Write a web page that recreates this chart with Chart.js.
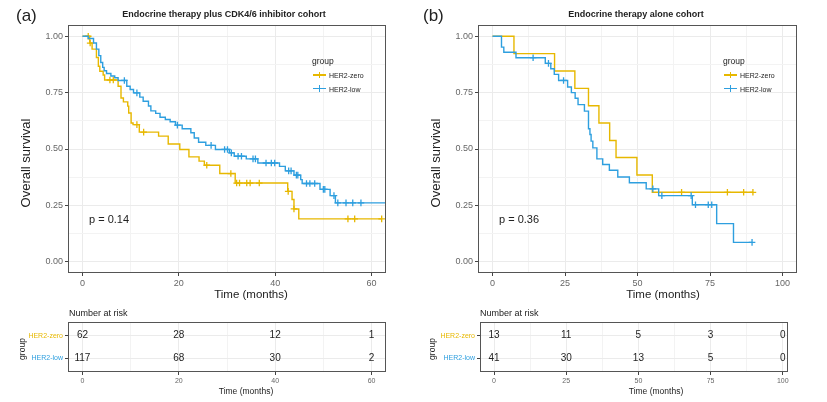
<!DOCTYPE html>
<html>
<head>
<meta charset="utf-8">
<script src="https://cdn.jsdelivr.net/npm/chart.js@4.4.0/dist/chart.umd.min.js"></script>
<style>
  body { margin: 0; background: #fff; font-family: "Liberation Sans", Arial, sans-serif; }
  #wrap { position: relative; width: 827px; height: 402px; overflow: hidden; background: #fff; }
  canvas { position: absolute; }
  .lbl { position: absolute; white-space: nowrap; line-height: 1; color: #222; }
  .sw { position: absolute; }
</style>
</head>
<body>
<div id="wrap">
  <canvas id="mainA" width="400" height="290" style="left:0;top:0"></canvas>
  <canvas id="mainB" width="417" height="290" style="left:410px;top:0"></canvas>
  <canvas id="riskA" width="400" height="90" style="left:0;top:300px"></canvas>
  <canvas id="riskB" width="417" height="90" style="left:410px;top:300px"></canvas>
</div>
<script>
// groups
const groups = ['HER2-zero', 'HER2-low'];
const groupColors = ['#E7B800', '#2E9FDF'];

// (a) endocrine therapy + CDK4/6 inhibitor: KM steps (months, survival after step)
const aZeroTime = [0, 1.5, 2.0, 2.9, 3.3, 3.6, 4.3, 4.6, 7.4, 8.0, 8.5, 9.4, 9.6, 10.1, 10.5, 11.8, 15.8, 17.8, 20.2, 22.1, 24.2, 25.3, 28.5, 31.7, 42.6, 43.5, 43.9, 44.9, 62.1];
const aZeroSurv = [1, 0.970, 0.943, 0.906, 0.867, 0.845, 0.828, 0.806, 0.778, 0.726, 0.709, 0.690, 0.660, 0.615, 0.608, 0.575, 0.557, 0.522, 0.498, 0.465, 0.446, 0.428, 0.391, 0.349, 0.312, 0.276, 0.234, 0.190, 0.190];
const aZeroCensorTime = [1.2, 1.6, 5.7, 6.4, 11.3, 12.7, 25.8, 30.8, 32.0, 32.6, 34.1, 34.8, 36.7, 42.7, 43.9, 55.1, 56.5, 62.1];
const aZeroCensorSurv = [1.0, 0.970, 0.806, 0.806, 0.608, 0.575, 0.428, 0.391, 0.349, 0.349, 0.349, 0.349, 0.349, 0.312, 0.234, 0.190, 0.190, 0.190];

const aLowTime = [0, 1.2, 2.3, 2.9, 3.4, 3.8, 4.2, 4.5, 5.0, 5.9, 6.7, 7.4, 9.2, 9.9, 10.6, 11.9, 12.6, 13.7, 14.2, 15.2, 16.1, 17.2, 18.2, 19.3, 20.7, 22.5, 23.2, 24.1, 25.6, 27.6, 30.5, 31.5, 34.0, 36.4, 40.9, 42.1, 43.9, 45.3, 45.6, 49.3, 51.4, 52.5, 66];
const aLowSurv = [1, 0.99, 0.97, 0.943, 0.914, 0.884, 0.862, 0.847, 0.835, 0.824, 0.816, 0.804, 0.778, 0.764, 0.749, 0.730, 0.712, 0.691, 0.669, 0.658, 0.641, 0.631, 0.621, 0.606, 0.590, 0.572, 0.549, 0.530, 0.516, 0.498, 0.483, 0.468, 0.456, 0.438, 0.423, 0.403, 0.384, 0.364, 0.347, 0.321, 0.293, 0.261, 0.261];
const aLowCensorTime = [8.7, 11.3, 19.7, 26.7, 29.5, 30.1, 30.9, 32.3, 33.0, 35.4, 35.9, 38.1, 39.2, 39.9, 42.8, 43.3, 44.4, 44.7, 46.5, 47.2, 48.2, 50.0, 50.3, 52.2, 53.0, 54.7, 56.1, 57.8];
const aLowCensorSurv = [0.804, 0.749, 0.606, 0.516, 0.498, 0.498, 0.483, 0.468, 0.468, 0.456, 0.456, 0.438, 0.438, 0.438, 0.403, 0.403, 0.384, 0.384, 0.347, 0.347, 0.347, 0.321, 0.321, 0.293, 0.261, 0.261, 0.261, 0.261];

// (b) endocrine therapy alone
const bZeroTime = [0, 7.4, 21.4, 28.4, 33.1, 36.7, 40.4, 42.6, 49.8, 55.1, 89.8];
const bZeroSurv = [1, 0.923, 0.846, 0.769, 0.692, 0.615, 0.538, 0.462, 0.385, 0.308, 0.308];
const bZeroCensorTime = [65.2, 81.0, 86.6, 89.8];
const bZeroCensorSurv = [0.308, 0.308, 0.308, 0.308];

const bLowTime = [0, 3.1, 3.9, 8.1, 18.2, 20.1, 21.3, 22.8, 25.9, 27.2, 28.5, 29.5, 31.7, 33.1, 33.6, 34.0, 34.6, 36.0, 38.0, 40.3, 43.2, 47.2, 53.0, 57.3, 68.9, 77.3, 83.1, 89.5];
const bLowSurv = [1, 0.952, 0.929, 0.905, 0.880, 0.856, 0.831, 0.804, 0.775, 0.750, 0.725, 0.697, 0.668, 0.590, 0.564, 0.535, 0.505, 0.456, 0.431, 0.406, 0.376, 0.350, 0.323, 0.293, 0.253, 0.169, 0.086, 0.086];
const bLowCensorTime = [14.0, 19.3, 24.5, 55.3, 58.4, 68.5, 70.0, 74.4, 75.6, 89.5];
const bLowCensorSurv = [0.905, 0.880, 0.804, 0.323, 0.293, 0.293, 0.253, 0.253, 0.253, 0.086];

// number at risk
const aRiskTime = [0, 20, 40, 60];
const aRiskZero = [62, 28, 12, 1];
const aRiskLow = [117, 68, 30, 2];
const bRiskTime = [0, 25, 50, 75, 100];
const bRiskZero = [13, 11, 5, 3, 0];
const bRiskLow = [41, 30, 13, 5, 0];

// ticks (major labelled, minor only as grid)
const aTimeGrid = [0, 10, 20, 30, 40, 50, 60];
const aTimeMajor = [0, 20, 40, 60];
const bTimeGrid = [0, 12.5, 25, 37.5, 50, 62.5, 75, 87.5, 100];
const bTimeMajor = [0, 25, 50, 75, 100];
const survGrid = [0, 0.125, 0.25, 0.375, 0.5, 0.625, 0.75, 0.875, 1];
const survMajor = [0, 0.25, 0.5, 0.75, 1];

Chart.defaults.font.family = '"Liberation Sans", Arial, sans-serif';
Chart.defaults.color = '#666';

const wrap = document.getElementById('wrap');

// frame around the plotting area (theme_bw panel border)
const panelBorder = {
  id: 'panelBorder',
  afterDraw(chart) {
    const { ctx, chartArea: a } = chart;
    ctx.save();
    ctx.strokeStyle = '#555';
    ctx.lineWidth = 1;
    ctx.strokeRect(Math.round(a.left) + 0.5, Math.round(a.top) + 0.5,
      Math.round(a.right - a.left) - 1, Math.round(a.bottom - a.top) - 1);
    ctx.restore();
  }
};

// numbers of the risk table, placed at the points of each row
const riskNumbers = {
  id: 'riskNumbers',
  afterDatasetsDraw(chart) {
    const ctx = chart.ctx;
    ctx.save();
    ctx.font = '10px "Liberation Sans", Arial, sans-serif';
    ctx.fillStyle = '#222';
    ctx.textAlign = 'center';
    ctx.textBaseline = 'middle';
    chart.data.datasets.forEach((ds, i) => {
      chart.getDatasetMeta(i).data.forEach((pt, j) => {
        ctx.fillText(String(ds.data[j].n), pt.x, pt.y);
      });
    });
    ctx.restore();
  }
};

function gridScale(min, max, gridTicks, majorTicks, labelFmt, fontSize, size, isY) {
  return {
    type: 'linear',
    min: min,
    max: max,
    afterBuildTicks: axis => { axis.ticks = gridTicks.map(v => ({ value: v })); },
    afterFit: axis => { if (isY) axis.width = size; else axis.height = size; },
    ticks: {
      autoSkip: false,
      maxRotation: 0,
      padding: 2,
      font: { size: fontSize },
      callback: v => majorTicks.includes(v) ? labelFmt(v) : ''
    },
    grid: {
      tickLength: 3,
      color: c => majorTicks.includes(c.tick.value) ? '#ebebeb' : '#f3f3f3',
      tickColor: c => majorTicks.includes(c.tick.value) ? '#444' : 'rgba(0,0,0,0)'
    },
    border: { display: false }
  };
}

// Kaplan-Meier panel
function createKmChart(id, curves, xMin, xMax, xGrid, xMajor, padRight) {
  const datasets = [];
  curves.forEach((c, g) => {
    datasets.push({
      data: c.time.map((t, i) => ({ x: t, y: c.surv[i] })),
      borderColor: groupColors[g],
      borderWidth: 1.4,
      stepped: 'before',
      pointRadius: 0,
      fill: false,
      order: 2 * (1 - g) + 1
    });
    datasets.push({
      data: c.censorTime.map((t, i) => ({ x: t, y: c.censorSurv[i] })),
      showLine: false,
      pointStyle: 'cross',
      pointRadius: 3.3,
      borderColor: groupColors[g],
      borderWidth: 1.3,
      order: 2 * (1 - g)
    });
  });
  return new Chart(document.getElementById(id), {
    type: 'line',
    data: { datasets },
    options: {
      responsive: false,
      animation: false,
      devicePixelRatio: 1,
      layout: { padding: { top: 25, right: padRight, left: 0, bottom: 0 } },
      plugins: { legend: { display: false }, tooltip: { enabled: false } },
      scales: {
        x: gridScale(xMin, xMax, xGrid, xMajor, v => String(v), 9, 17, false),
        y: gridScale(-0.05, 1.05, survGrid, survMajor, v => v.toFixed(2), 9, 68, true)
      }
    },
    plugins: [panelBorder]
  });
}

// risk table panel
function createRiskChart(id, times, rows, xMin, xMax, xGrid, xMajor, yWidth, padRight) {
  const datasets = rows.map((row, g) => ({
    data: times.map((t, i) => ({ x: t, y: g + 1, n: row[i] })),
    showLine: false,
    pointRadius: 0
  }));
  const yScale = gridScale(0.4, 2.6, [1, 2], [1, 2], v => groups[v - 1], 7, yWidth, true);
  yScale.reverse = true;
  yScale.ticks.color = c => groupColors[c.index];
  return new Chart(document.getElementById(id), {
    type: 'line',
    data: { datasets },
    options: {
      responsive: false,
      animation: false,
      devicePixelRatio: 1,
      layout: { padding: { top: 22, right: padRight, left: 0, bottom: 0 } },
      plugins: { legend: { display: false }, tooltip: { enabled: false } },
      scales: {
        x: gridScale(xMin, xMax, xGrid, xMajor, v => String(v), 7, 18, false),
        y: yScale
      }
    },
    plugins: [panelBorder, riskNumbers]
  });
}

// text outside the plotting areas
function addLabel(text, x, y, size, opt = {}) {
  const el = document.createElement('div');
  el.className = 'lbl';
  el.textContent = text;
  el.style.left = x + 'px';
  el.style.top = y + 'px';
  el.style.fontSize = size + 'px';
  if (opt.bold) el.style.fontWeight = 'bold';
  if (opt.color) el.style.color = opt.color;
  const tx = opt.center ? '-50%' : '0';
  el.style.transform = 'translate(' + tx + ', -50%)' + (opt.rotate ? ' rotate(-90deg)' : '');
  wrap.appendChild(el);
}

function addBox(x, y, w, h, color) {
  const el = document.createElement('div');
  el.className = 'sw';
  el.style.cssText += 'left:' + x + 'px;top:' + y + 'px;width:' + w + 'px;height:' + h + 'px;background:' + color;
  wrap.appendChild(el);
}

function addLegend(x, y) {
  addLabel('group', x, y, 8.5);
  groups.forEach((g, i) => {
    const cy = y + 14 + i * 13.5;
    addBox(x + 1, cy - 0.7, 13, 1.4, groupColors[i]);
    addBox(x + 6.8, cy - 3.2, 1.4, 6.4, groupColors[i]);
    addLabel(g, x + 17, cy, 7);
  });
}

createKmChart('mainA', [
  { time: aZeroTime, surv: aZeroSurv, censorTime: aZeroCensorTime, censorSurv: aZeroCensorSurv },
  { time: aLowTime, surv: aLowSurv, censorTime: aLowCensorTime, censorSurv: aLowCensorSurv }
], -3, 63, aTimeGrid, aTimeMajor, 14);

createKmChart('mainB', [
  { time: bZeroTime, surv: bZeroSurv, censorTime: bZeroCensorTime, censorSurv: bZeroCensorSurv },
  { time: bLowTime, surv: bLowSurv, censorTime: bLowCensorTime, censorSurv: bLowCensorSurv }
], -5, 105, bTimeGrid, bTimeMajor, 30);

createRiskChart('riskA', aRiskTime, [aRiskZero, aRiskLow], -3, 63, aTimeGrid, aTimeMajor, 68, 14);
createRiskChart('riskB', bRiskTime, [bRiskZero, bRiskLow], -4.85, 101.8, bTimeGrid, bTimeMajor, 70, 39);

// panel (a) texts
addLabel('(a)', 16, 15, 17);
addLabel('Endocrine therapy plus CDK4/6 inhibitor cohort', 224, 14, 9, { bold: true, center: true });
addLabel('Overall survival', 25, 163, 13, { center: true, rotate: true });
addLabel('Time (months)', 251, 295, 11.5, { center: true });
addLabel('p = 0.14', 89, 219, 11);
addLegend(312, 61);
addLabel('Number at risk', 69, 313, 9);
addLabel('group', 22, 349, 8.5, { center: true, rotate: true });
addLabel('Time (months)', 246, 391, 8.5, { center: true });

// panel (b) texts
addLabel('(b)', 423, 15, 17);
addLabel('Endocrine therapy alone cohort', 636, 14, 9, { bold: true, center: true });
addLabel('Overall survival', 435, 163, 13, { center: true, rotate: true });
addLabel('Time (months)', 663, 295, 11.5, { center: true });
addLabel('p = 0.36', 499, 219, 11);
addLegend(723, 61);
addLabel('Number at risk', 480, 313, 9);
addLabel('group', 432, 349, 8.5, { center: true, rotate: true });
addLabel('Time (months)', 656, 391, 8.5, { center: true });
</script>
</body>
</html>
